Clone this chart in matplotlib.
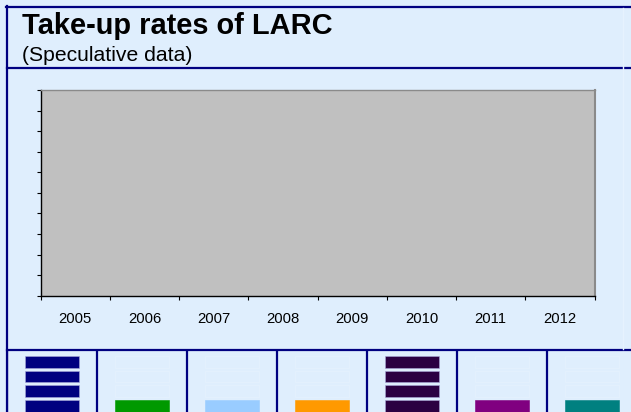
import matplotlib
matplotlib.use("Agg")
import matplotlib.pyplot as plt
from matplotlib.lines import Line2D

# ---- data ----
years = ["2005", "2006", "2007", "2008", "2009", "2010", "2011", "2012"]
y_ticks = [0, 1, 2, 3, 4, 5, 6, 7, 8, 9, 10]
legend_blocks = [4, 1, 1, 1, 4, 1, 1]
legend_colors = ["#000080", "#009900", "#99CCFF", "#FF9900", "#2B0042", "#800080", "#008080"]
title = "Take-up rates of LARC"
subtitle = "(Speculative data)"

W, H = 631, 412
BG = "#DFEEFD"
NAVY = "#000080"

plt.rcParams['font.family'] = ['Liberation Sans', 'DejaVu Sans']
fig = plt.figure(figsize=(W / 100, H / 100), dpi=100)
fig.patch.set_facecolor(BG)

def fx(px):
    return px / W

def fy(py):
    return 1 - py / H

# frame lines
lw = 1.6
fig.add_artist(Line2D([fx(6), 1], [fy(7), fy(7)], color=NAVY, lw=lw))
fig.add_artist(Line2D([fx(6.8), fx(6.8)], [fy(6), 0], color=NAVY, lw=lw))
fig.add_artist(Line2D([fx(6.8), 1], [fy(68), fy(68)], color=NAVY, lw=lw))
fig.add_artist(Line2D([fx(6.8), 1], [fy(349.5), fy(349.5)], color=NAVY, lw=lw))
fig.add_artist(Line2D([fx(622.5), fx(622.5)], [fy(8), fy(349)], color="#E6F2FE", lw=1))

# titles
fig.text(fx(22), fy(34.5), title, fontsize=20.9, fontweight='bold', color='black', va='baseline', ha='left')
fig.text(fx(22.5), fy(61), subtitle, fontsize=15.2, color='black', va='baseline', ha='left')

# main axes
L, R, T, B = 40.7, 594.5, 90, 295.7
ax = fig.add_axes([fx(L), fy(B), fx(R - L), (B - T) / H])
ax.set_facecolor("#C0C0C0")
ax.set_xlim(0, len(years))
ax.set_ylim(y_ticks[0], y_ticks[-1])
ax.set_yticks(y_ticks)
ax.set_yticklabels([])
ax.set_xticks(range(len(years) + 1))
ax.set_xticklabels([])
ax.set_xticks([i + 0.5 for i in range(len(years))], minor=True)
ax.set_xticklabels(years, minor=True, fontsize=10.7)
ax.tick_params(axis='x', which='minor', length=0, pad=11.5)
ax.tick_params(axis='both', which='major', length=3.2, width=0.8, color='black', direction='out')
for s in ['left', 'bottom']:
    ax.spines[s].set_color('black')
    ax.spines[s].set_linewidth(1.0)
ax.spines['top'].set_color('#8A8A8A')
ax.spines['top'].set_linewidth(1.0)
ax.spines['right'].set_color('#8A8A8A')
ax.spines['right'].set_linewidth(1.5)

# legend strip
ax2 = fig.add_axes([fx(7), 0, fx(630), (H - 350) / H])
ax2.set_xlim(0, len(legend_blocks))
ax2.set_ylim(0, H - 350)
ax2.axis('off')
ax2.patch.set_alpha(0)
pitch, bh, base = 14.6, 11.6, 0.4
max_n = max(legend_blocks)
for i, (n, c) in enumerate(zip(legend_blocks, legend_colors)):
    for k in range(max_n):
        if k < n:
            ax2.bar(i + 0.5, bh, width=0.6, bottom=base + k * pitch, color=c,
                    edgecolor="#A8A8D8" if n > 1 else c, linewidth=0.4)
        else:
            ax2.bar(i + 0.5, bh, width=0.6, bottom=base + k * pitch, color='none',
                    edgecolor="#E4F1FE", linewidth=0.6)
for i in range(len(legend_blocks) + 1):
    ax2.axvline(i, color=NAVY, lw=lw)

fig.savefig("out.png", dpi=100, facecolor=BG)
